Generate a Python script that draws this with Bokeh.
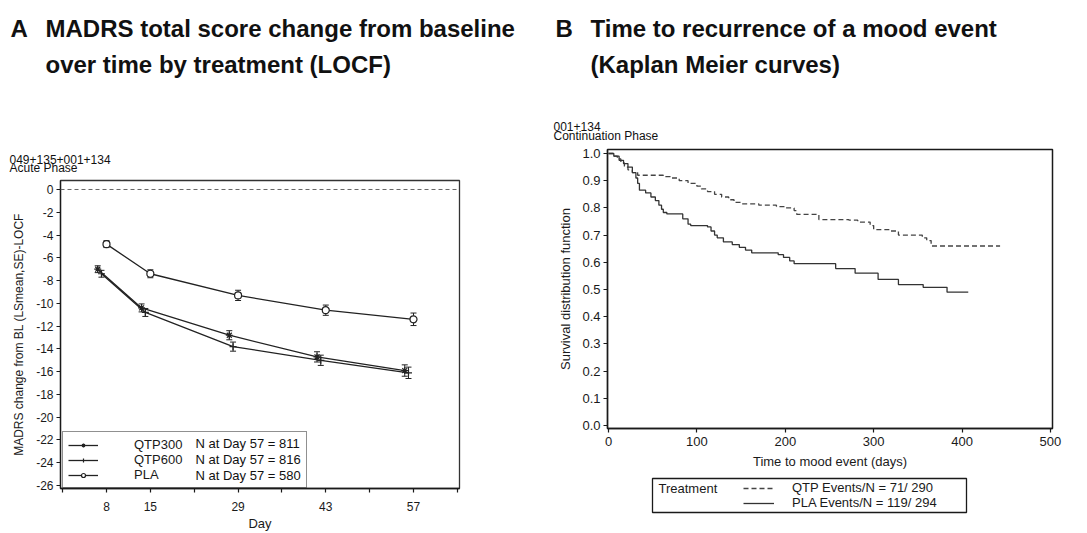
from bokeh.plotting import figure
from bokeh.layouts import row, column
from bokeh.models import (ColumnDataSource, Whisker, TeeHead, Span, Label, Legend,
                          LegendItem, FixedTicker, BoxAnnotation, Range1d)
from bokeh.embed import file_html
from bokeh.resources import INLINE

# ---------------- Panel A data (MADRS change from baseline, LSmean & SE) ----------------
days = [8, 15, 29, 43, 57]
qtp300_mean = [-7.0, -10.4, -12.8, -14.7, -15.9]
qtp300_se = [0.3, 0.35, 0.4, 0.45, 0.5]
qtp600_mean = [-7.4, -10.8, -13.8, -15.0, -16.1]
qtp600_se = [0.3, 0.35, 0.4, 0.45, 0.5]
pla_mean = [-4.8, -7.4, -9.3, -10.6, -11.4]
pla_se = [0.3, 0.35, 0.45, 0.45, 0.55]
groups = ["QTP300", "QTP600", "PLA"]
n_day57 = [811, 816, 580]
day_ticks = [1, 8, 15, 22, 29, 36, 43, 50, 57, 64]
day_tick_labels = ["", "8", "15", "", "29", "", "43", "", "57", ""]
madrs_ticks = [-26, -24, -22, -20, -18, -16, -14, -12, -10, -8, -6, -4, -2, 0]

# ---------------- Panel B data (Kaplan-Meier survival) ----------------
qtp_t = [0, 5, 10, 14, 18, 22, 27, 33, 62, 70, 80, 90, 100, 105, 112, 120, 128, 136,
         142, 150, 170, 190, 200, 210, 213, 238, 272, 282, 296, 300, 318, 328, 355,
         360, 365, 443]
qtp_s = [1.0, 0.99, 0.98, 0.965, 0.95, 0.94, 0.93, 0.92, 0.915, 0.91, 0.90, 0.89,
         0.88, 0.87, 0.86, 0.85, 0.84, 0.83, 0.82, 0.815, 0.81, 0.805, 0.80, 0.79,
         0.776, 0.757, 0.755, 0.748, 0.735, 0.72, 0.715, 0.70, 0.69, 0.68, 0.66, 0.66]
pla_t = [0, 6, 12, 17, 22, 27, 31, 33, 35, 42, 48, 53, 57, 60, 62, 66, 84, 90, 93,
         112, 116, 120, 123, 130, 140, 148, 155, 162, 192, 198, 205, 210, 257, 279,
         305, 328, 356, 383, 407]
pla_s = [1.0, 0.99, 0.975, 0.963, 0.95, 0.93, 0.91, 0.89, 0.865, 0.855, 0.84, 0.827,
         0.81, 0.795, 0.783, 0.778, 0.76, 0.74, 0.735, 0.73, 0.715, 0.70, 0.69, 0.675,
         0.665, 0.655, 0.645, 0.635, 0.628, 0.618, 0.605, 0.595, 0.577, 0.56, 0.537,
         0.518, 0.508, 0.49, 0.49]
km_names = ["QTP", "PLA"]
km_events = [71, 119]
km_n = [290, 294]
surv_ticks = [0.0, 0.1, 0.2, 0.3, 0.4, 0.5, 0.6, 0.7, 0.8, 0.9, 1.0]
time_ticks = [0, 100, 200, 300, 400, 500]

FONT = "Liberation Sans"
INK = "#1a1a1a"


def style_axis(ax, size="12px"):
    ax.axis_line_color = INK
    ax.axis_line_width = 1.3
    ax.major_tick_line_color = INK
    ax.major_tick_line_width = 1.2
    ax.major_tick_out = 4
    ax.major_tick_in = 0
    ax.minor_tick_out = 0
    ax.minor_tick_in = 0
    ax.major_label_text_font = FONT
    ax.major_label_text_font_size = size
    ax.major_label_text_color = INK
    ax.axis_label_text_font = FONT
    ax.axis_label_text_font_size = size
    ax.axis_label_text_font_style = "normal"
    ax.axis_label_text_color = INK


def no_align(p):
    if "frame_align" in p.properties():
        p.frame_align = False


def put(p, fx, fy, px, py, text, size, bold=False, place="above", baseline="alphabetic"):
    lab = Label(x=fx(px), y=fy(py), text=text, text_font=FONT, text_font_size=size,
                text_font_style="bold" if bold else "normal",
                text_color="#111111", text_baseline=baseline, text_align="left")
    if place == "center":
        p.add_layout(lab)
    else:
        p.add_layout(lab, place)


# ======================= Panel A =======================
W1, H1 = 538, 533
FL1, FT1, FR1, FB1 = 60, 180, 79, 45          # borders (canvas px)
X1 = (0.66, 64.34)
Y1 = (-26.26, 0.79)
p1 = figure(width=W1, height=H1, x_range=X1, y_range=Y1,
            min_border_left=FL1, min_border_right=FR1, min_border_top=FT1,
            min_border_bottom=FB1, output_backend="svg", toolbar_location=None)
no_align(p1)
p1.xgrid.visible = False
p1.ygrid.visible = False
p1.outline_line_color = "#333333"
p1.outline_line_width = 1.3

fw1 = W1 - FL1 - FR1
fh1 = H1 - FT1 - FB1


def ax1(page_x):
    return X1[0] + (page_x - FL1) * (X1[1] - X1[0]) / fw1


def ay1(page_y):
    return Y1[1] - (page_y - FT1) * (Y1[1] - Y1[0]) / fh1


style_axis(p1.xaxis[0], "12px")
style_axis(p1.yaxis[0], "12px")
p1.xaxis.ticker = FixedTicker(ticks=day_ticks)
p1.xaxis.major_label_overrides = {t: l for t, l in zip(day_ticks, day_tick_labels)}
p1.xaxis.axis_label = "Day"
p1.xaxis.axis_label_text_font_size = "13px"
p1.xaxis.major_label_standoff = 9
p1.xaxis.axis_label_standoff = 2
p1.yaxis.ticker = FixedTicker(ticks=madrs_ticks)
p1.yaxis.major_label_overrides = {t: str(t) for t in madrs_ticks}
p1.yaxis.axis_label = "MADRS change from BL (LSmean,SE)-LOCF"
p1.yaxis.major_label_standoff = 3
p1.yaxis.axis_label_standoff = 7

p1.add_layout(Span(location=0, dimension="width", line_color="#666666",
                   line_dash="4 3", line_width=1))

series = [("QTP300", qtp300_mean, qtp300_se, -1.4, "asterisk"),
          ("QTP600", qtp600_mean, qtp600_se, -0.8, "cross"),
          ("PLA", pla_mean, pla_se, 0.0, "circle")]
items = []
for name, mean, se, off, marker in series:
    src = ColumnDataSource(dict(
        x=[d + off for d in days], y=mean,
        upper=[m + s for m, s in zip(mean, se)],
        lower=[m - s for m, s in zip(mean, se)]))
    lr = p1.line("x", "y", source=src, line_color="#222222", line_width=1.3)
    sr = p1.scatter("x", "y", source=src, marker=marker, size=7,
                    line_color="#222222", fill_color="white", line_width=1.2)
    p1.add_layout(Whisker(source=src, base="x", upper="upper", lower="lower",
                          dimension="height", line_color="#222222", line_width=1,
                          upper_head=TeeHead(size=6, line_color="#222222", line_width=1),
                          lower_head=TeeHead(size=6, line_color="#222222", line_width=1)))
    items.append(LegendItem(label=name, renderers=[lr, sr]))

leg1 = Legend(items=items, location=(2, 0), orientation="vertical",
              glyph_width=30, glyph_height=10, label_height=10, spacing=0,
              padding=5, margin=0, label_standoff=36, label_width=167,
              label_text_font=FONT,
              label_text_font_size="13px", label_text_color=INK,
              border_line_color="#222222", border_line_width=1.3,
              background_fill_alpha=0)
p1.add_layout(leg1)

row_y = [443, 459, 475]
for g, n, yy in zip(groups, n_day57, row_y):
    put(p1, ax1, ay1, 195, yy, f"N at Day 57 = {n}", "13px", place="center",
        baseline="middle")

put(p1, ax1, ay1, 9, 167, "Acute Phase", "12px")
put(p1, ax1, ay1, 9, 159, "049+135+001+134", "12px")
put(p1, ax1, ay1, 45, 64, "over time by treatment (LOCF)", "24px", True)
put(p1, ax1, ay1, 45, 28, "MADRS total score change from baseline", "24px", True)
put(p1, ax1, ay1, 10, 28, "A", "24px", True)

# ======================= Panel B =======================
OX2 = W1
W2 = 1087 - W1
HL = 60                       # height of the legend strip under panel B
H2 = 533 - HL
FL2, FT2, FR2, FB2 = 607 - OX2, 149, 1087 - 1052, H2 - 428
X2 = (-1.13, 502.3)
Y2 = (-0.011, 1.0147)
p2 = figure(width=W2, height=H2, x_range=X2, y_range=Y2,
            min_border_left=FL2, min_border_right=FR2, min_border_top=FT2,
            min_border_bottom=FB2, output_backend="svg", toolbar_location=None)
no_align(p2)
p2.xgrid.visible = False
p2.ygrid.visible = False
p2.outline_line_color = INK
p2.outline_line_width = 1.5

fw2 = W2 - FL2 - FR2
fh2 = H2 - FT2 - FB2


def ax2(page_x):
    return X2[0] + (page_x - OX2 - FL2) * (X2[1] - X2[0]) / fw2


def ay2(page_y):
    return Y2[1] - (page_y - FT2) * (Y2[1] - Y2[0]) / fh2


style_axis(p2.xaxis[0], "13px")
style_axis(p2.yaxis[0], "13px")
p2.xaxis.ticker = FixedTicker(ticks=time_ticks)
p2.xaxis.major_label_overrides = {t: str(t) for t in time_ticks}
p2.xaxis.axis_label = "Time to mood event (days)"
p2.xaxis.major_label_standoff = 4
p2.xaxis.axis_label_standoff = 5
p2.yaxis.ticker = FixedTicker(ticks=surv_ticks)
p2.yaxis.major_label_overrides = {t: f"{t:.1f}" for t in surv_ticks}
p2.yaxis.axis_label = "Survival distribution function"
p2.yaxis.major_label_standoff = 3
p2.yaxis.axis_label_standoff = 6

QTP_STYLE = dict(line_color="#444444", line_width=1.3, line_dash="5 3")
PLA_STYLE = dict(line_color="#333333", line_width=1.3)
p2.step(qtp_t, qtp_s, mode="after", **QTP_STYLE)
p2.step(pla_t, pla_s, mode="after", **PLA_STYLE)

put(p2, ax2, ay2, 553, 135, "Continuation Phase", "12px")
put(p2, ax2, ay2, 553, 126, "001+134", "12px")
put(p2, ax2, ay2, 590, 64, "(Kaplan Meier curves)", "24px", True)
put(p2, ax2, ay2, 590, 28, "Time to recurrence of a mood event", "24px", True)
put(p2, ax2, ay2, 555, 28, "B", "24px", True)

# ---- legend strip under panel B (page-pixel coordinates) ----
pl = figure(width=W2, height=HL, x_range=Range1d(OX2, 1087), y_range=Range1d(533, H2),
            min_border_left=0, min_border_right=0, min_border_top=0, min_border_bottom=0,
            x_axis_location=None, y_axis_location=None, output_backend="svg",
            toolbar_location=None)
no_align(pl)
pl.grid.visible = False
pl.outline_line_color = None
# same curves (they fall outside this strip's ranges); used only as legend keys
k_q = pl.step(qtp_t, qtp_s, mode="after", **QTP_STYLE)
k_p = pl.step(pla_t, pla_s, mode="after", **PLA_STYLE)
leg2 = Legend(items=[
    LegendItem(label=f"{km_names[0]} Events/N = {km_events[0]}/ {km_n[0]}", renderers=[k_q]),
    LegendItem(label=f"{km_names[1]} Events/N = {km_events[1]}/ {km_n[1]}", renderers=[k_p])],
    location=(741 - OX2, 533 - 512), orientation="vertical",
    glyph_width=31, glyph_height=10, label_height=10, spacing=0, padding=2, margin=0,
    label_standoff=18, label_text_font=FONT, label_text_font_size="13px",
    label_text_color=INK, border_line_alpha=0, background_fill_alpha=0)
pl.add_layout(leg2)
pl.add_layout(BoxAnnotation(left=652, right=966, top=478, bottom=512,
                            fill_alpha=0, line_color=INK, line_width=1.3, line_alpha=1))
pl.add_layout(Label(x=658, y=488, text="Treatment", text_font=FONT,
                    text_font_size="13px", text_color=INK, text_baseline="middle"))

layout = row(p1, column(p2, pl))
open("out.html", "w").write(file_html(layout, INLINE))
